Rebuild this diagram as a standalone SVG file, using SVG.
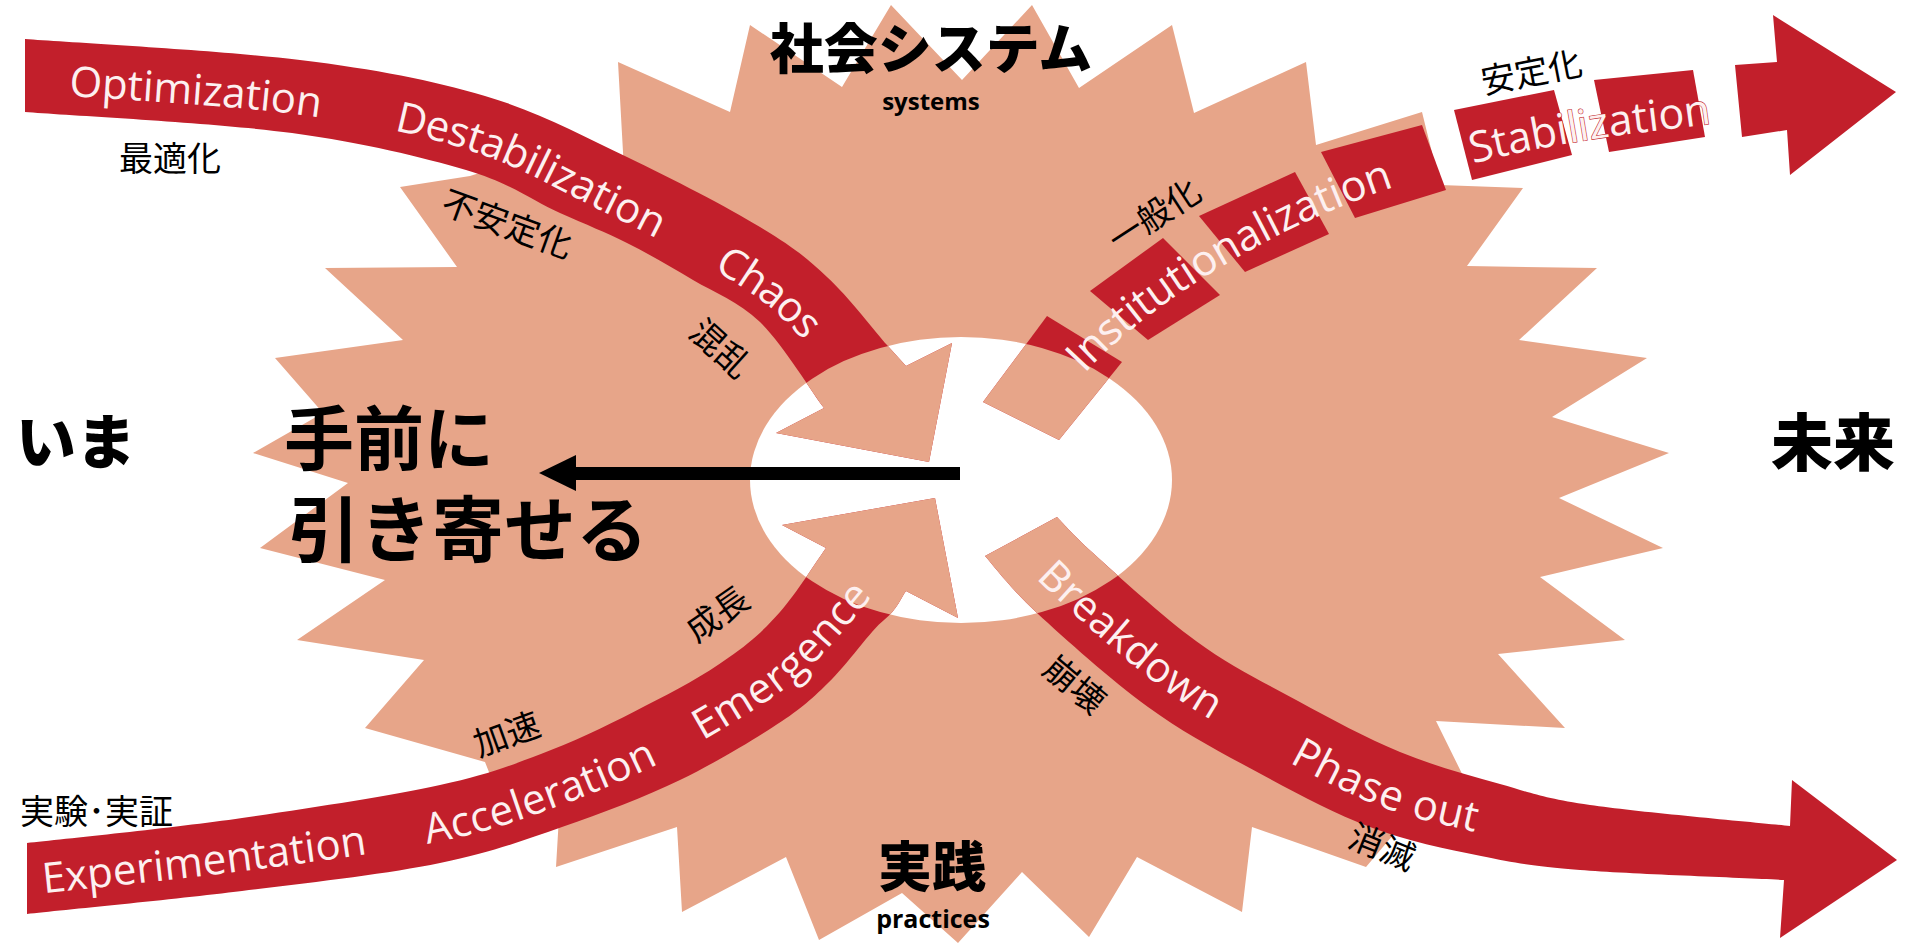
<svg xmlns="http://www.w3.org/2000/svg" width="1905" height="946" viewBox="0 0 1905 946">
<defs>
<style>
.burst{fill:#E7A589}
.band{fill:#C21F2B}
.inner{fill:#E7A589}
.bt{font-family:"Open Sans","Liberation Sans",sans-serif;font-size:42px;fill:#FDF0F0}
.jp{font-family:"Noto Sans CJK JP","Noto Sans",sans-serif;font-size:34px;fill:#000}
.big{font-family:"Noto Sans CJK JP",sans-serif;font-weight:900;fill:#000}
.mid{font-family:"Noto Sans CJK JP",sans-serif;font-weight:700;fill:#000}
.en{font-family:"Open Sans","Liberation Sans",sans-serif;font-weight:700;fill:#000}
</style>
<clipPath id="ell"><ellipse cx="961" cy="480" rx="211" ry="143"/></clipPath>
<path id="band1" d="M25,39 C71,42.5 223,50.5 300,60 C377,69.5 430.5,80 485,96 C539.5,112 581,135 627,157 C673,179 727,207 760,227 C793,247 806,257 827,277 C848,296 877,334 887,345 L906,366 L952,343 L929,462 L776,433 L824,408 C813,394 782,343 760,322 C738,301 715,293 693,280 C671,267 649,254 627,243 C605,232 587,225 560,213 C533,201 511,183 466,170 C421,157 365.5,143 292,133 C218,123 69.5,115.5 25,112 Z"/>
<path id="band2" d="M27,843 C63,839 173,828 242,818 C311,808 389,796 440,785 C492,774 517,763 551,750 C585,737 616,721 645,706 C675,691 706,674 728,658 C751,642 764,630 780,612 C796,594 818,559 826,548 L782,525 L935,498 L958,618 L906,591 C902,596 897,610 884,620 C871,630 847,665 828,683 C810,701 798,711 773,727 C748,743 715,763 680,780 C645,797 602,813 562,827 C522,841 493,852 440,863 C387,874 311,882.5 242,891 C173,899.5 63,910 27,914 Z"/>
<path id="band3" d="M1057,517 C1063,523 1070,532 1093,553 C1116,574 1162,616 1196,641 C1230,666 1264,682.5 1298,701 C1332,719.5 1366,738 1400,752 C1434,766 1468,775 1500,784 C1532,793 1542,798 1590,805 C1638,812 1757,822.5 1790,826 L1792,780 L1897,860 L1780,938 L1784,880 C1750,878 1630,874 1580,870 C1530,866 1516,863 1481,856 C1446,849 1407,841 1370,827 C1333,813 1296,793 1259,773 C1222,753 1185,734 1148,707 C1111,680 1064,638 1037,613 C1010,588 994,566 985,556 Z"/>
<g id="band4">
<polygon points="983,402 1047,316 1122,362 1059,440"/>
<polygon points="1090,291 1163,238 1220,295 1148,340"/>
<polygon points="1199,216 1295,172 1329,234 1245,272"/>
<polygon points="1321,152 1422,125 1446,190 1355,218"/>
<polygon points="1454,110 1554,90 1572,155 1472,180"/>
<polygon points="1594,80 1693,70 1705,137 1609,152"/>
<polygon points="1735,65 1777,62 1773,15 1896,92 1790,175 1787,130 1742,137"/>
</g>
<path id="c1" d="M25,76 C70,79.5 222,87.5 296,97 C370,106.5 419,117 471,133 C523,149 564,173.5 608,195 C652,216.5 703,243 734,262 C765,281 776,289 796,308 C816,327 844,363 854,374 L890,420"/>
<path id="c2" d="M27,878 C63,874 173,863 242,854 C311,845 388,835 440,824 C492,813 519,802.5 556,789 C593,775.5 630,759 662,743 C694,726.8 727,707 750,692 C773,677 783,669.5 800,653 C817,636.5 837,612 853,593 C869,578.5 888,549 895,540 L930,490"/>
<path id="c3" d="M1021,536 C1028,544 1040,560 1065,583 C1090,606 1136.5,648 1172,674 C1207.5,700 1242.5,718 1278,737 C1313.5,756 1350,776.5 1385,790 C1420,803.5 1457,810 1490,818 C1523,826 1550,832 1585,837 C1620,842 1681,846 1700,848 L1800,852"/>
<path id="c4" d="M1021,421 C1034,406.5 1070,361 1100,334 C1130,307 1163,283 1200,260 C1237,237 1278,215 1320,197 C1362,179 1407,164 1450,152 C1493,140 1538,131 1580,124 C1622,117 1680,111 1700,108 L1800,100"/>
</defs>

<g id="starburst">
<polygon class="burst" points="624,170 618,62 730,112 750,25 842,87 891,5 962,80 1032,5 1079,88 1172,25 1194,113 1306,62 1316,145 1422,112 1440,185 1523,188 1467,266 1597,268 1519,340 1647,358 1552,417 1669,453 1559,498 1663,548 1540,577 1625,640 1498,654 1565,728 1436,721 1475,800 1410,815 1366,867 1252,827 1242,912 1137,857 1089,937 1022,872 958,943 902,893 819,940 786,857 682,912 677,827 556,867 560,800 500,800 485,762 365,728 424,660 297,640 385,580 260,548 348,483 253,453 323,413 275,358 403,340 325,268 457,267 400,187 470,176 520,160"/>
<ellipse id="center-hole" cx="961" cy="480" rx="211" ry="143" fill="#FFFFFF"/>
</g>

<g id="connectors">
<g id="flow-systems-in">
<use href="#band1" class="band"/>
<use href="#band1" class="inner" clip-path="url(#ell)"/>
</g>
<g id="flow-practices-in">
<use href="#band2" class="band"/>
<use href="#band2" class="inner" clip-path="url(#ell)"/>
</g>
<g id="flow-practices-out">
<use href="#band3" class="band"/>
<use href="#band3" class="inner" clip-path="url(#ell)"/>
</g>
<g id="flow-systems-out">
<use href="#band4" class="band"/>
<use href="#band4" class="inner" clip-path="url(#ell)"/>
</g>
<g id="pull-arrow">
<rect x="572" y="467" width="388" height="13" fill="#000"/>
<polygon points="539,473 576,455 576,491" fill="#000"/>
</g>
</g>

<g id="band-labels">
<text class="bt" dominant-baseline="central"><textPath href="#c1" startOffset="45">Optimization</textPath></text>
<text class="bt" dominant-baseline="central"><textPath href="#c1" startOffset="375">Destabilization</textPath></text>
<text class="bt" dominant-baseline="central"><textPath href="#c1" startOffset="730">Chaos</textPath></text>
<text class="bt" dominant-baseline="central"><textPath href="#c2" startOffset="15">Experimentation</textPath></text>
<text class="bt" dominant-baseline="central"><textPath href="#c2" startOffset="400">Acceleration</textPath></text>
<text class="bt" dominant-baseline="central"><textPath href="#c2" startOffset="690">Emergence</textPath></text>
<text class="bt" dominant-baseline="central"><textPath href="#c3" startOffset="40">Breakdown</textPath></text>
<text class="bt" dominant-baseline="central"><textPath href="#c3" startOffset="350">Phase out</textPath></text>
<text class="bt" dominant-baseline="central" style="font-size:43px"><textPath href="#c4" startOffset="78">Institutionalization</textPath></text>
<text class="bt" dominant-baseline="central" style="font-size:43px" stroke="#C21F2B" stroke-width="1.2" paint-order="stroke"><textPath href="#c4" startOffset="535">Stabilization</textPath></text>
</g>

<g id="jp-labels">
<g id="label-saitekika"><text class="jp" x="170" y="156" text-anchor="middle" dominant-baseline="central">最適化</text></g>
<g id="label-fuanteika"><text class="jp" x="508" y="222" text-anchor="middle" dominant-baseline="central" transform="rotate(20 508 222)">不安定化</text></g>
<g id="label-konran"><text class="jp" x="722" y="347" text-anchor="middle" dominant-baseline="central" transform="rotate(42 722 347)">混乱</text></g>
<g id="label-seicho"><text class="jp" x="716" y="612" text-anchor="middle" dominant-baseline="central" transform="rotate(-35 716 612)">成長</text></g>
<g id="label-kasoku"><text class="jp" x="506" y="732" text-anchor="middle" dominant-baseline="central" transform="rotate(-20 506 732)">加速</text></g>
<g id="label-jikken"><text class="jp" x="20" y="809" dominant-baseline="central" font-size="33">実験･実証</text></g>
<g id="label-ippanka"><text class="jp" x="1153" y="213" text-anchor="middle" dominant-baseline="central" transform="rotate(-33 1153 213)">一般化</text></g>
<g id="label-anteika"><text class="jp" x="1531" y="70" text-anchor="middle" dominant-baseline="central" transform="rotate(-11 1531 70)">安定化</text></g>
<g id="label-hokai"><text class="jp" x="1076" y="683" text-anchor="middle" dominant-baseline="central" transform="rotate(40 1076 683)">崩壊</text></g>
<g id="label-shometsu"><text class="jp" x="1383" y="845" text-anchor="middle" dominant-baseline="central" transform="rotate(22 1383 845)">消滅</text></g>
</g>

<g id="node-systems">
<text class="big" x="931" y="69" text-anchor="middle" font-size="54">社会システム</text>
<text class="en" x="931" y="110" text-anchor="middle" font-size="24">systems</text>
</g>
<g id="node-practices">
<text class="big" x="932" y="887" text-anchor="middle" font-size="54">実践</text>
<text class="en" x="933" y="928" text-anchor="middle" font-size="25">practices</text>
</g>
<g id="node-now"><text class="big" x="16" y="464" font-size="60">いま</text></g>
<g id="node-future"><text class="big" x="1771" y="466" font-size="62">未来</text></g>
<g id="node-pull">
<text class="mid" x="284" y="465" font-size="70">手前に</text>
<text class="mid" x="288" y="556" font-size="72">引き寄せる</text>
</g>
</svg>
